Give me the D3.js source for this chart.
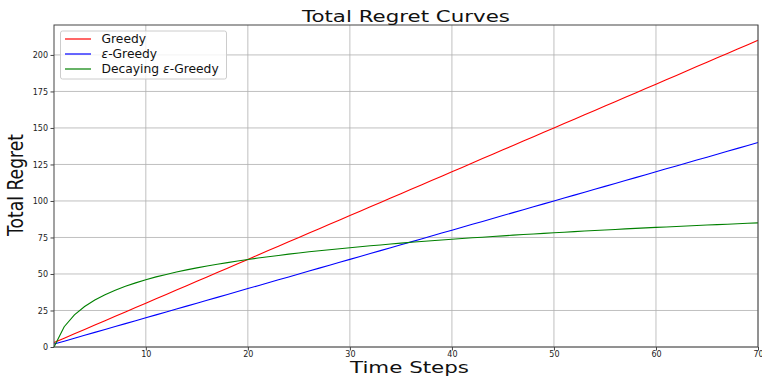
<!DOCTYPE html>
<html>
<head>
<meta charset="utf-8">
<script src="https://cdn.jsdelivr.net/npm/d3@7"></script>
<style>
  body { margin: 0; background: #fff; }
  svg { display: block; font-family: "DejaVu Sans", sans-serif; }
</style>
</head>
<body>
<svg id="chart" width="762" height="377"></svg>
<script>
// time steps 1..70
const timeSteps = [1,2,3,4,5,6,7,8,9,10,11,12,13,14,15,16,17,18,19,20,21,22,23,24,25,26,27,28,29,30,
  31,32,33,34,35,36,37,38,39,40,41,42,43,44,45,46,47,48,49,50,51,52,53,54,55,56,57,58,59,60,
  61,62,63,64,65,66,67,68,69,70]
const greedy = [3,6,9,12,15,18,21,24,27,30,33,36,39,42,45,48,51,54,57,60,63,66,69,72,75,78,81,84,87,90,
  93,96,99,102,105,108,111,114,117,120,123,126,129,132,135,138,141,144,147,150,153,156,159,162,165,168,171,174,177,180,
  183,186,189,192,195,198,201,204,207,210]
const epsGreedy = [2,4,6,8,10,12,14,16,18,20,22,24,26,28,30,32,34,36,38,40,42,44,46,48,50,52,54,56,58,60,
  62,64,66,68,70,72,74,76,78,80,82,84,86,88,90,92,94,96,98,100,102,104,106,108,110,112,114,116,118,120,
  122,124,126,128,130,132,134,136,138,140]
const decayingEps = [0,13.9,22.0,27.7,32.2,35.8,38.9,41.6,43.9,46.1,48.0,49.7,51.3,52.8,54.2,55.5,56.7,57.8,58.9,59.9,
  60.9,61.8,62.7,63.6,64.4,65.2,65.9,66.6,67.3,68.0,68.7,69.3,69.9,70.5,71.1,71.7,72.2,72.8,73.3,73.8,
  74.3,74.8,75.2,75.7,76.1,76.6,77.0,77.4,77.8,78.2,78.6,79.0,79.4,79.8,80.1,80.5,80.9,81.2,81.6,81.9,
  82.2,82.5,82.9,83.2,83.5,83.8,84.1,84.4,84.7,85.0]
const xTicks = [10,20,30,40,50,60,70]
const yTicks = [0,25,50,75,100,125,150,175,200]
// legend labels: [before ε, after ε] so the ε can be set in italics
const seriesNames = [['Greedy', null], ['', '-Greedy'], ['Decaying ', '-Greedy']]

const svg = d3.select('#chart')
const margin = {left: 54, right: 4, top: 25, bottom: 30}
const W = 762, H = 377
const x = d3.scaleLinear().domain([1, 70]).range([margin.left, W - margin.right])
const y = d3.scaleLinear().domain([0, 220.5]).range([H - margin.bottom, margin.top])

//grid
const grid = svg.append('g').attr('stroke', '#b0b0b0').attr('stroke-width', 0.8)
xTicks.forEach(t => grid.append('line').attr('x1', x(t)).attr('x2', x(t)).attr('y1', y.range()[0]).attr('y2', y.range()[1]))
yTicks.forEach(t => grid.append('line').attr('y1', y(t)).attr('y2', y(t)).attr('x1', x.range()[0]).attr('x2', x.range()[1]))

//lines
const series = [
  {name: seriesNames[0], values: greedy, color: 'red'},
  {name: seriesNames[1], values: epsGreedy, color: 'blue'},
  {name: seriesNames[2], values: decayingEps, color: 'green'}
]
const line = d3.line().x((d, i) => x(timeSteps[i])).y(d => y(d))
svg.append('g').selectAll('path').data(series).join('path')
  .attr('d', d => line(d.values))
  .attr('fill', 'none')
  .attr('stroke', d => d.color)
  .attr('stroke-width', 1.1)

//axes
const xAxis = svg.append('g').attr('transform', `translate(0,${y.range()[0]})`)
  .call(d3.axisBottom(x).tickValues(xTicks).tickSize(3.5).tickPadding(0.5))
const yAxis = svg.append('g').attr('transform', `translate(${x.range()[0]},0)`)
  .call(d3.axisLeft(y).tickValues(yTicks).tickSize(3.5).tickPadding(2.5))
;[xAxis, yAxis].forEach(a => {
  a.selectAll('text').attr('font-size', 8).attr('fill', '#222').attr('font-family', '"DejaVu Sans", sans-serif')
  a.selectAll('line').attr('stroke', '#444')
  a.select('.domain').remove()
})
//spines
svg.append('rect')
  .attr('x', x.range()[0]).attr('y', y.range()[1])
  .attr('width', x.range()[1] - x.range()[0]).attr('height', y.range()[0] - y.range()[1])
  .attr('fill', 'none').attr('stroke', '#444').attr('stroke-width', 1)

//labels (the reference text is stretched, so fix their lengths)
svg.append('text').attr('x', 302).attr('y', 21.5)
  .attr('font-size', 16.5).attr('fill', '#111')
  .attr('textLength', 208).attr('lengthAdjust', 'spacingAndGlyphs').text('Total Regret Curves')
svg.append('text').attr('x', 350).attr('y', 373)
  .attr('font-size', 16).attr('fill', '#111')
  .attr('textLength', 119).attr('lengthAdjust', 'spacingAndGlyphs').text('Time Steps')
svg.append('text').attr('transform', 'translate(23.3,236) rotate(-90)')
  .attr('font-size', 20.5).attr('fill', '#111')
  .attr('textLength', 102).attr('lengthAdjust', 'spacingAndGlyphs').text('Total Regret')

//legend
const legend = svg.append('g').attr('transform', 'translate(60.5,31)')
legend.append('rect').attr('width', 166).attr('height', 48).attr('rx', 2)
  .attr('fill', 'white').attr('fill-opacity', 0.8).attr('stroke', '#ccc')
series.forEach((s, i) => {
  const row = legend.append('g').attr('transform', `translate(0,${8 + i * 15})`)
  row.append('line').attr('x1', 4.5).attr('x2', 30.5).attr('y1', 0).attr('y2', 0)
    .attr('stroke', s.color).attr('stroke-width', 1.2)
  const t = row.append('text').attr('x', 41).attr('y', 4.3).attr('font-size', 12.3).attr('fill', '#111')
  t.append('tspan').text(s.name[0])
  if (s.name[1] !== null) {
    t.append('tspan').attr('font-style', 'italic').text('ε')
    t.append('tspan').text(s.name[1])
  }
})
</script>
</body>
</html>
